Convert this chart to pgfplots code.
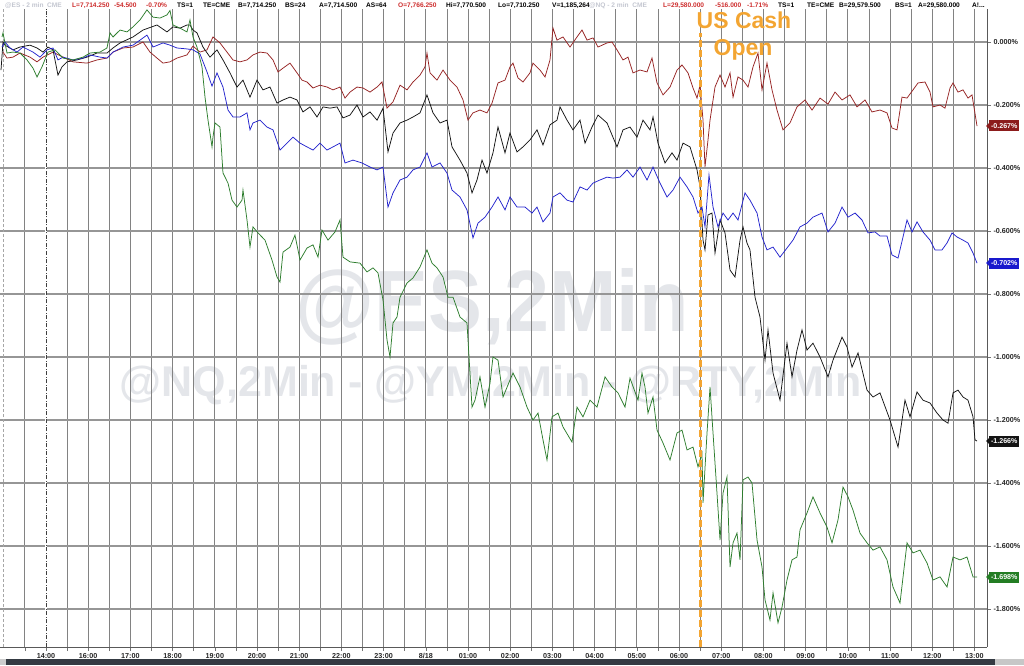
\documentclass[border=0pt]{standalone}
\usepackage{fontspec}
\setmainfont{Liberation Sans}
\usepackage{pgfplots}
\pgfplotsset{compat=1.18}
\usepackage{pgfplotstable}
\definecolor{esred}{RGB}{150,35,35}
\definecolor{esblk}{RGB}{20,20,20}
\definecolor{esblue}{RGB}{35,35,205}
\definecolor{esgreen}{RGB}{45,125,45}
\definecolor{gridc}{RGB}{130,130,130}
\definecolor{gridh}{RGB}{150,150,150}
\definecolor{wmark}{RGB}{228,230,234}
\definecolor{hdrred}{RGB}{205,45,45}
\definecolor{hdrgray}{RGB}{195,198,208}
\definecolor{cashor}{RGB}{243,165,50}
\definecolor{barc}{RGB}{52,58,66}
\definecolor{boxred}{RGB}{140,28,28}
\definecolor{boxblue}{RGB}{25,25,205}
\definecolor{boxgreen}{RGB}{35,125,35}

\pgfplotstableread{
h y
-1.019 -0.032
-0.924 -0.051
-0.782 -0.048
-0.616 -0.035
-0.379 -0.048
-0.213 -0.063
-0.071 -0.048
0.166 -0.032
0.403 -0.048
0.640 -0.063
0.972 -0.067
1.209 -0.057
1.445 -0.051
1.588 -0.032
1.825 -0.019
2.062 -0.016
2.299 0.000
2.464 -0.032
2.630 -0.051
2.773 -0.067
2.938 -0.063
3.104 -0.051
3.341 -0.041
3.483 -0.013
3.649 -0.032
3.815 -0.025
3.957 0.016
4.123 -0.003
4.289 -0.032
4.431 -0.057
4.597 -0.063
4.763 -0.057
4.905 -0.041
5.071 -0.032
5.237 -0.035
5.379 -0.057
5.498 -0.095
5.616 -0.083
5.782 -0.067
5.948 -0.098
6.066 -0.121
6.185 -0.127
6.327 -0.146
6.493 -0.137
6.659 -0.143
6.801 -0.152
6.967 -0.143
7.085 -0.178
7.204 -0.159
7.370 -0.143
7.512 -0.146
7.678 -0.159
7.844 -0.143
7.962 -0.127
8.081 -0.210
8.223 -0.190
8.389 -0.137
8.555 -0.152
8.697 -0.127
8.863 -0.105
8.981 -0.079
9.028 -0.035
9.100 -0.098
9.265 -0.121
9.408 -0.089
9.574 -0.121
9.739 -0.143
9.882 -0.184
10.000 -0.248
10.118 -0.225
10.284 -0.216
10.450 -0.225
10.569 -0.194
10.711 -0.130
10.877 -0.121
10.995 -0.079
11.066 -0.067
11.185 -0.114
11.303 -0.127
11.469 -0.098
11.540 -0.067
11.706 -0.089
11.825 -0.111
11.943 -0.057
12.014 0.044
12.109 0.006
12.251 0.016
12.417 -0.016
12.583 0.016
12.701 0.038
12.820 0.006
12.962 0.013
13.081 -0.016
13.294 -0.003
13.412 0.000
13.531 -0.025
13.673 -0.057
13.791 -0.048
13.910 -0.098
14.076 -0.089
14.242 -0.095
14.360 -0.051
14.479 -0.130
14.621 -0.168
14.787 -0.143
14.953 -0.089
15.071 -0.073
15.213 -0.098
15.332 -0.146
15.427 -0.178
15.498 -0.137
15.569 -0.248
15.616 -0.397
15.687 -0.311
15.735 -0.248
15.853 -0.143
15.972 -0.105
16.090 -0.143
16.209 -0.098
16.280 -0.175
16.398 -0.111
16.517 -0.121
16.635 -0.143
16.754 -0.079
16.872 -0.035
16.967 -0.152
17.085 -0.067
17.204 -0.152
17.322 -0.216
17.464 -0.279
17.630 -0.257
17.796 -0.206
17.986 -0.184
18.152 -0.216
18.341 -0.178
18.531 -0.197
18.697 -0.159
18.863 -0.184
19.052 -0.168
19.218 -0.206
19.408 -0.184
19.573 -0.222
19.763 -0.216
19.929 -0.225
20.047 -0.273
20.166 -0.279
20.284 -0.175
20.403 -0.178
20.545 -0.152
20.664 -0.130
20.829 -0.127
20.948 -0.159
21.019 -0.206
21.185 -0.200
21.303 -0.210
21.422 -0.146
21.493 -0.130
21.611 -0.159
21.730 -0.152
21.848 -0.178
21.943 -0.168
22.062 -0.267
}\tblred

\pgfplotstableread{
h y
-1.066 -0.089
-1.019 0.000
-0.972 -0.010
-0.782 -0.025
-0.616 -0.016
-0.379 -0.010
-0.213 -0.019
-0.071 -0.032
0.047 -0.016
0.166 -0.025
0.284 -0.105
0.379 -0.079
0.498 -0.063
0.735 -0.057
0.972 -0.048
1.209 -0.035
1.445 -0.035
1.588 -0.019
1.754 -0.003
2.062 0.016
2.299 0.038
2.630 0.054
2.867 0.032
3.009 0.048
3.175 0.044
3.341 0.054
3.412 0.054
3.483 0.038
3.578 0.029
3.720 -0.016
3.886 -0.048
4.052 -0.025
4.194 -0.057
4.360 -0.098
4.526 -0.143
4.668 -0.121
4.834 -0.175
5.000 -0.121
5.142 -0.152
5.308 -0.143
5.474 -0.194
5.616 -0.184
5.782 -0.175
5.948 -0.184
6.090 -0.222
6.256 -0.206
6.422 -0.238
6.564 -0.206
6.730 -0.210
6.896 -0.206
7.038 -0.241
7.204 -0.232
7.370 -0.200
7.512 -0.238
7.678 -0.222
7.844 -0.248
7.986 -0.210
8.104 -0.349
8.223 -0.289
8.389 -0.257
8.555 -0.248
8.697 -0.238
8.863 -0.225
9.028 -0.168
9.171 -0.225
9.337 -0.257
9.502 -0.248
9.621 -0.333
9.810 -0.375
9.976 -0.416
10.095 -0.479
10.213 -0.438
10.332 -0.375
10.450 -0.416
10.592 -0.352
10.711 -0.270
10.877 -0.352
10.995 -0.289
11.161 -0.349
11.303 -0.333
11.469 -0.311
11.635 -0.279
11.777 -0.327
11.943 -0.263
12.109 -0.248
12.180 -0.206
12.346 -0.248
12.488 -0.279
12.654 -0.248
12.773 -0.321
12.938 -0.270
13.081 -0.232
13.294 -0.257
13.531 -0.333
13.673 -0.279
13.839 -0.270
14.005 -0.302
14.147 -0.248
14.313 -0.279
14.384 -0.238
14.502 -0.321
14.668 -0.384
14.834 -0.352
14.953 -0.375
15.095 -0.321
15.261 -0.333
15.427 -0.406
15.498 -0.460
15.569 -0.629
15.616 -0.660
15.687 -0.549
15.782 -0.543
15.853 -0.670
15.972 -0.565
16.090 -0.606
16.209 -0.724
16.327 -0.746
16.446 -0.629
16.517 -0.587
16.611 -0.638
16.682 -0.660
16.801 -0.810
16.919 -0.873
17.038 -1.010
17.109 -0.914
17.228 -1.051
17.393 -1.137
17.559 -0.956
17.678 -1.063
17.796 -0.978
17.915 -0.914
18.033 -0.978
18.175 -0.956
18.341 -1.000
18.531 -1.063
18.649 -1.010
18.863 -0.937
18.981 -0.968
19.100 -1.032
19.242 -0.987
19.455 -1.105
19.597 -1.127
19.763 -1.114
20.000 -1.200
20.190 -1.286
20.355 -1.137
20.474 -1.190
20.640 -1.111
20.782 -1.137
20.948 -1.146
21.114 -1.178
21.256 -1.200
21.374 -1.210
21.493 -1.114
21.611 -1.105
21.730 -1.127
21.848 -1.137
21.967 -1.190
22.014 -1.263
22.062 -1.267
}\tblblack

\pgfplotstableread{
h y
-1.043 -0.016
-0.972 0.000
-0.853 -0.019
-0.687 -0.032
-0.545 -0.016
-0.308 -0.032
-0.142 -0.048
0.024 -0.025
0.166 -0.019
0.284 -0.057
0.403 -0.048
0.640 -0.057
0.877 -0.051
1.043 -0.041
1.280 -0.048
1.445 -0.051
1.588 -0.032
1.825 -0.016
2.062 -0.010
2.228 0.006
2.393 0.022
2.536 -0.016
2.773 -0.003
2.938 -0.010
3.104 -0.019
3.341 -0.022
3.483 -0.025
3.649 -0.038
3.815 -0.095
3.934 -0.140
4.052 -0.098
4.194 -0.143
4.313 -0.216
4.431 -0.238
4.597 -0.238
4.763 -0.225
4.834 -0.279
4.905 -0.257
5.071 -0.248
5.237 -0.270
5.379 -0.279
5.545 -0.343
5.711 -0.321
5.853 -0.302
6.019 -0.321
6.185 -0.333
6.327 -0.343
6.493 -0.321
6.659 -0.343
6.801 -0.333
6.967 -0.321
7.085 -0.384
7.275 -0.375
7.488 -0.384
7.678 -0.397
7.844 -0.406
7.986 -0.397
8.104 -0.524
8.223 -0.479
8.389 -0.438
8.555 -0.429
8.697 -0.406
8.863 -0.397
9.028 -0.352
9.147 -0.397
9.337 -0.384
9.502 -0.416
9.621 -0.470
9.810 -0.492
9.976 -0.533
10.118 -0.622
10.237 -0.575
10.403 -0.556
10.569 -0.524
10.711 -0.492
10.877 -0.533
10.995 -0.492
11.161 -0.524
11.351 -0.524
11.517 -0.543
11.635 -0.524
11.777 -0.571
11.943 -0.543
12.014 -0.492
12.180 -0.479
12.346 -0.502
12.488 -0.508
12.654 -0.460
12.820 -0.470
12.962 -0.448
13.128 -0.438
13.294 -0.429
13.436 -0.432
13.602 -0.429
13.768 -0.406
13.910 -0.429
14.076 -0.397
14.242 -0.438
14.384 -0.397
14.550 -0.448
14.716 -0.492
14.858 -0.470
15.024 -0.429
15.190 -0.460
15.332 -0.492
15.450 -0.543
15.545 -0.524
15.616 -0.587
15.711 -0.422
15.806 -0.524
15.924 -0.587
16.043 -0.543
16.161 -0.565
16.280 -0.543
16.398 -0.565
16.564 -0.479
16.682 -0.502
16.849 -0.543
16.967 -0.619
17.085 -0.660
17.228 -0.651
17.393 -0.683
17.559 -0.654
17.701 -0.629
17.867 -0.587
18.033 -0.575
18.175 -0.556
18.389 -0.543
18.531 -0.603
18.697 -0.575
18.863 -0.524
19.005 -0.556
19.171 -0.543
19.336 -0.565
19.479 -0.606
19.645 -0.603
19.763 -0.616
19.929 -0.616
20.047 -0.676
20.190 -0.686
20.308 -0.619
20.403 -0.565
20.521 -0.603
20.640 -0.571
20.782 -0.603
20.948 -0.629
21.066 -0.660
21.232 -0.660
21.351 -0.638
21.469 -0.606
21.588 -0.619
21.730 -0.629
21.848 -0.638
21.967 -0.670
22.062 -0.702
}\tblblue

\pgfplotstableread{
h y
-1.043 0.016
-1.019 0.029
-0.924 -0.035
-0.782 -0.032
-0.616 -0.035
-0.450 -0.057
-0.308 -0.083
-0.213 -0.111
-0.095 -0.079
0.047 -0.032
0.213 -0.025
0.403 -0.051
0.640 -0.057
0.877 -0.048
1.043 -0.035
1.280 -0.032
1.445 -0.019
1.517 0.029
1.588 0.016
1.754 0.038
1.919 0.032
2.062 0.048
2.228 0.070
2.393 0.102
2.536 0.079
2.701 0.076
2.867 0.086
2.938 0.100
3.009 0.054
3.175 0.044
3.341 0.032
3.412 0.070
3.483 0.016
3.578 -0.016
3.697 -0.079
3.768 -0.175
3.839 -0.248
3.934 -0.333
3.957 -0.302
4.005 -0.257
4.123 -0.270
4.194 -0.416
4.313 -0.448
4.408 -0.502
4.526 -0.524
4.645 -0.502
4.668 -0.470
4.763 -0.565
4.834 -0.651
4.905 -0.587
5.024 -0.606
5.190 -0.629
5.355 -0.692
5.474 -0.746
5.545 -0.762
5.616 -0.667
5.782 -0.651
5.900 -0.613
6.019 -0.692
6.185 -0.654
6.327 -0.644
6.446 -0.683
6.540 -0.597
6.683 -0.629
6.848 -0.603
6.967 -0.565
7.038 -0.683
7.204 -0.698
7.441 -0.702
7.607 -0.730
7.749 -0.717
7.867 -0.733
7.986 -0.819
8.081 -0.946
8.152 -1.000
8.223 -0.892
8.318 -0.873
8.389 -0.810
8.555 -0.765
8.697 -0.749
8.863 -0.714
9.028 -0.660
9.147 -0.702
9.265 -0.717
9.408 -0.746
9.526 -0.810
9.645 -0.810
9.810 -0.873
9.976 -0.892
10.095 -1.159
10.166 -1.137
10.284 -1.063
10.403 -1.159
10.521 -1.083
10.592 -1.000
10.711 -1.010
10.830 -1.127
10.995 -1.073
11.066 -1.051
11.232 -1.095
11.398 -1.159
11.540 -1.200
11.659 -1.178
11.777 -1.263
11.872 -1.327
11.991 -1.190
12.133 -1.178
12.251 -1.222
12.464 -1.270
12.583 -1.159
12.725 -1.190
12.891 -1.137
13.057 -1.159
13.247 -1.063
13.412 -1.095
13.555 -1.114
13.720 -1.159
13.839 -1.067
14.028 -1.137
14.123 -1.051
14.194 -1.095
14.265 -1.178
14.384 -1.127
14.479 -1.232
14.621 -1.273
14.787 -1.327
14.953 -1.241
15.071 -1.232
15.190 -1.295
15.332 -1.286
15.450 -1.349
15.545 -1.305
15.569 -1.463
15.664 -1.241
15.735 -1.095
15.806 -1.241
15.900 -1.432
15.972 -1.581
16.043 -1.432
16.137 -1.381
16.209 -1.667
16.280 -1.590
16.374 -1.559
16.446 -1.644
16.517 -1.390
16.635 -1.381
16.730 -1.400
16.849 -1.581
16.967 -1.667
17.038 -1.771
17.156 -1.835
17.228 -1.749
17.346 -1.844
17.441 -1.794
17.559 -1.708
17.678 -1.644
17.796 -1.635
17.867 -1.549
18.033 -1.495
18.175 -1.444
18.341 -1.495
18.507 -1.540
18.626 -1.590
18.768 -1.517
18.886 -1.413
19.005 -1.444
19.123 -1.486
19.289 -1.559
19.455 -1.590
19.597 -1.613
19.763 -1.603
19.929 -1.644
20.071 -1.730
20.237 -1.781
20.403 -1.590
20.545 -1.622
20.711 -1.613
20.877 -1.654
21.019 -1.708
21.185 -1.698
21.351 -1.730
21.493 -1.635
21.659 -1.644
21.825 -1.635
21.967 -1.698
22.062 -1.698
}\tblgreen

\begin{document}
\begin{tikzpicture}[x=1pt,y=1pt]
\useasboundingbox (0,-18) rectangle (1024,647);
% watermarks (behind the grid)
\node[text=wmark, font=\fontsize{87}{87}\selectfont\bfseries, xscale=0.93, inner sep=0pt] at (492,340) {@ES,2Min};
\node[text=wmark, font=\fontsize{43}{43}\selectfont\bfseries, inner sep=0pt] at (491,262) {@NQ,2Min - @YM,2Min - @RTY,2Min};

\begin{axis}[
  at={(0pt,0pt)}, anchor=south west,
  width=987pt, height=638pt, scale only axis,
  xmin=-1.0900, xmax=22.2986, ymin=-1.92063, ymax=0.10476,
  axis x line*=bottom, axis y line*=right,
  axis line style={draw=black!65, line width=0.9pt},
  xtick={0,1,2,3,4,5,6,7,8,9,10,11,12,13,14,15,16,17,18,19,20,21,22},
  xticklabels={14:00,16:00,17:00,18:00,19:00,20:00,21:00,22:00,23:00,8/18,01:00,02:00,03:00,04:00,05:00,06:00,07:00,08:00,09:00,10:00,11:00,12:00,13:00},
  minor xtick={-0.5,0.5,1.5,2.5,3.5,4.5,5.5,6.5,7.5,8.5,9.5,10.5,11.5,12.5,13.5,14.5,15.5,16.5,17.5,18.5,19.5,20.5,21.5},
  ytick={0,-0.2,-0.4,-0.6,-0.8,-1,-1.2,-1.4,-1.6,-1.8},
  yticklabels={0.000\%,-0.200\%,-0.400\%,-0.600\%,-0.800\%,-1.000\%,-1.200\%,-1.400\%,-1.600\%,-1.800\%},
  xmajorgrids, xminorgrids, ymajorgrids,
  major x grid style={draw=gridc, line width=0.8pt},
  minor x grid style={draw=gridc, line width=0.8pt},
  major y grid style={draw=gridh, line width=1.1pt},
  tick align=outside,
  major tick length=4pt, minor tick length=4pt,
  tick style={draw=black!55, line width=0.6pt},
  ticklabel style={font=\fontsize{7.2}{8}\selectfont\bfseries, text=black!85},
  xticklabel style={yshift=1.5pt},
  yticklabel style={anchor=west, xshift=-1pt},
]
\draw[white, line width=1.2pt] (axis cs:0,-1.92063) -- (axis cs:0,0.10476);
\draw[black!75, line width=0.7pt, dash pattern=on 4pt off 1.5pt on 1pt off 1.5pt] (axis cs:0,-1.92063) -- (axis cs:0,0.10476);
\draw[black!35, line width=0.7pt, dash pattern=on 3pt off 2pt] (axis cs:-1,-1.92063) -- (axis cs:-1,0.10476);
\addplot[esred, line width=0.75pt] table[x=h,y=y]{\tblred};
\addplot[esblk, line width=0.75pt] table[x=h,y=y]{\tblblack};
\addplot[esblue, line width=0.75pt] table[x=h,y=y]{\tblblue};
\addplot[esgreen, line width=0.75pt] table[x=h,y=y]{\tblgreen};
\end{axis}

% US Cash Open line and text
\draw[cashor, line width=2.4pt, dash pattern=on 7pt off 3pt] (700.6,0) -- (700.6,614);
\node[text=cashor, font=\fontsize{23}{23}\selectfont\bfseries, anchor=base, inner sep=0pt] at (744,618) {US Cash};
\node[text=cashor, font=\fontsize{23}{23}\selectfont\bfseries, anchor=base, inner sep=0pt] at (743,591) {Open};

% header
\begin{scope}[every node/.style={anchor=base west, inner sep=0pt, font=\fontsize{6.6}{8}\selectfont\bfseries}]
\node[text=hdrgray] at (5,639) {@ES - 2 min\ \ CME};
\node[text=hdrred] at (72,639) {L=7,714.250};
\node[text=hdrred] at (114,639) {-54.500};
\node[text=hdrred] at (146,639) {-0.70\%};
\node at (177,639) {TS=1};
\node at (203,639) {TE=CME};
\node at (238,639) {B=7,714.250};
\node at (285,639) {BS=24};
\node at (319,639) {A=7,714.500};
\node at (366,639) {AS=64};
\node[text=hdrred] at (398,639) {O=7,766.250};
\node at (446,639) {Hi=7,770.500};
\node at (498,639) {Lo=7,710.250};
\node at (552,639) {V=1,185,264};
\node[text=hdrgray] at (589,639) {@NQ - 2 min\ \ CME};
\node[text=hdrred] at (663,639) {L=29,580.000};
\node[text=hdrred] at (715,639) {-516.000};
\node[text=hdrred] at (747,639) {-1.71\%};
\node at (778,639) {TS=1};
\node at (807,639) {TE=CME};
\node at (839,639) {B=29,579.500};
\node at (895,639) {BS=1};
\node at (918,639) {A=29,580.000};
\node at (972,639) {A!...};
\end{scope}

% last value boxes
\begin{scope}[every node/.style={anchor=west, inner xsep=1.8pt, inner ysep=0pt, minimum height=11pt, text=white, font=\fontsize{7.1}{8}\selectfont\bfseries}]
\fill[boxred] (986,521) -- (990,525) -- (990,517) -- cycle;
\node[fill=boxred] at (989,521) {-0.267\%};
\fill[boxblue] (986,384) -- (990,388) -- (990,380) -- cycle;
\node[fill=boxblue] at (989,384) {-0.702\%};
\fill[esblk] (986,206) -- (990,210) -- (990,202) -- cycle;
\node[fill=esblk] at (989,206) {-1.266\%};
\fill[boxgreen] (986,70) -- (990,74) -- (990,66) -- cycle;
\node[fill=boxgreen] at (989,70) {-1.698\%};
\end{scope}

% bottom bar
\fill[barc] (6,-12) rectangle (995,-18);
\fill[black!20] (0,-12) rectangle (6,-18);
\fill[black!22] (995,-12) rectangle (1024,-18);
\end{tikzpicture}
\end{document}
